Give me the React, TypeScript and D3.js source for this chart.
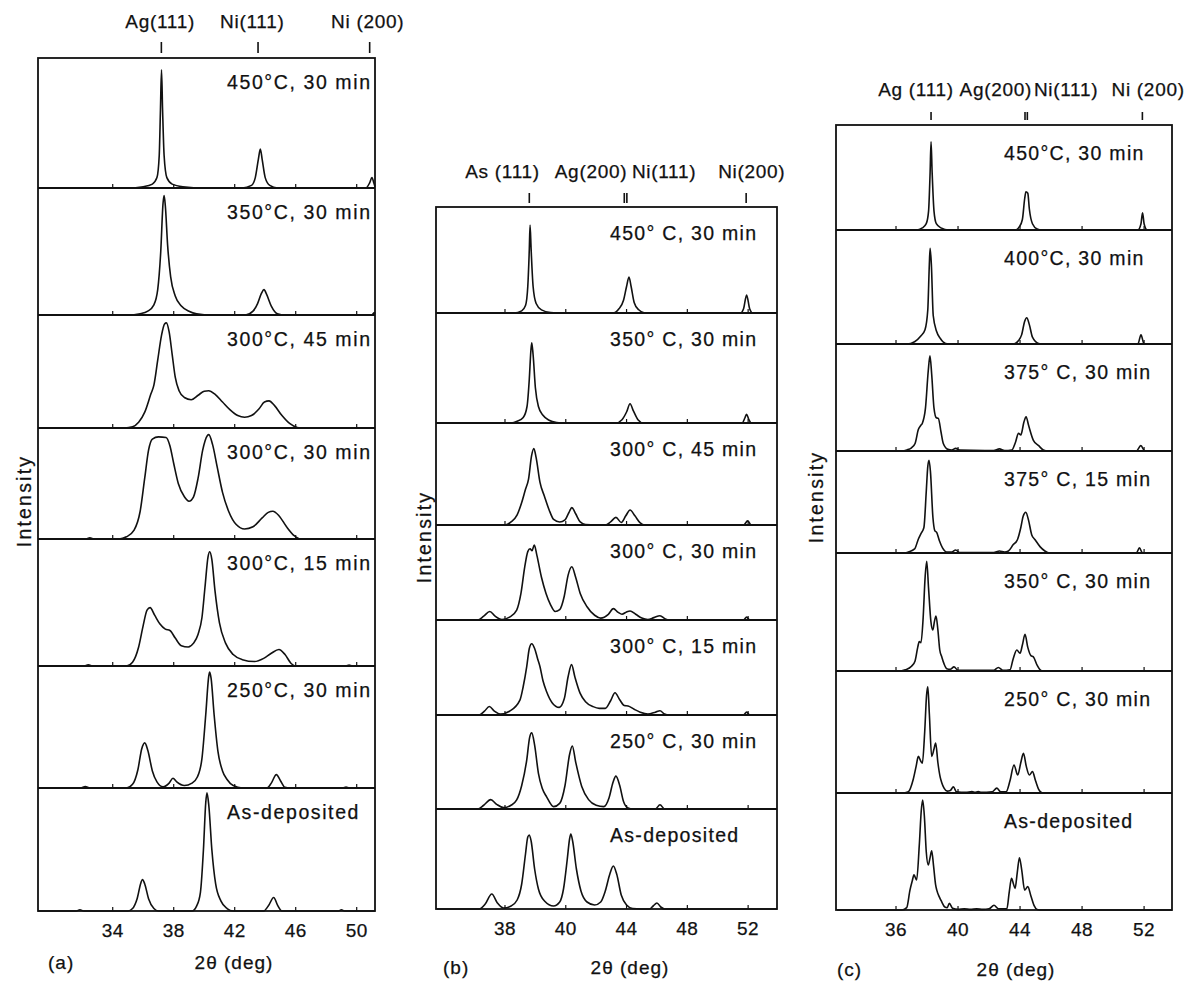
import React from 'react'
import * as d3 from 'd3'

// 2θ (deg) , intensity in % of the strip height

// ---------- panel (a) ----------
const a450 = [[29.1,0],[35,0],[36,1],[36.6,3],[36.9,8],[37.05,25],[37.13,60],[37.2,91],[37.27,60],[37.37,25],[37.55,8],[37.9,3],[38.6,1],[40,0],[42.5,0],[43.1,2],[43.35,8],[43.55,22],[43.68,30],[43.8,22],[44.0,8],[44.3,2],[44.8,0],[50.6,0],[50.85,4],[51.0,8],[51.12,4],[51.2,1]]
const a350 = [[29.1,0],[35,0],[35.8,1],[36.3,3],[36.7,8],[36.95,20],[37.15,50],[37.3,88],[37.37,94],[37.45,86],[37.6,55],[37.8,30],[38.1,15],[38.5,7],[39,3],[39.5,1],[40.5,0],[42.7,0],[43.2,3],[43.5,9],[43.75,17],[43.92,20],[44.1,16],[44.4,7],[44.8,1],[45.3,0],[51,0],[51.15,2],[51.2,1]]
const a300_45 = [[29.1,0],[34.8,0],[35.3,1],[35.7,5],[36.1,14],[36.5,30],[36.7,38],[36.95,60],[37.2,82],[37.4,92],[37.52,93],[37.7,85],[37.9,65],[38.1,45],[38.35,33],[38.7,27],[39.15,25],[39.6,29],[40,32.5],[40.3,33],[40.7,30],[41.2,23],[41.7,16],[42.2,11],[42.65,9.5],[43.1,11],[43.6,17],[43.95,23],[44.25,24],[44.6,20],[45.1,11],[45.6,4],[46.1,0.5],[46.5,0],[51.2,0]]
const a300_30 = [[29.1,0],[32.2,0],[32.5,1],[32.8,0],[34.4,0],[34.9,2],[35.4,8],[35.8,25],[36.1,55],[36.35,80],[36.6,90],[37.0,92],[37.5,91.5],[37.75,84],[38.0,68],[38.3,50],[38.7,38],[39.0,34],[39.3,38],[39.6,55],[39.9,80],[40.2,93],[40.3,94],[40.55,85],[40.85,65],[41.2,42],[41.6,25],[42.1,13],[42.65,9],[43.2,11],[43.8,19],[44.2,24],[44.5,25],[44.9,21],[45.4,11],[45.9,3],[46.3,0],[51.2,0]]
const a300_15 = [[29.1,0],[32.1,0],[32.4,1],[32.7,0],[34.9,0],[35.3,3],[35.7,15],[36.0,32],[36.25,44],[36.45,46],[36.75,40],[37.1,33],[37.45,29],[37.75,28],[38.1,22],[38.5,16],[38.95,15],[39.3,18],[39.6,25],[39.85,38],[40.05,62],[40.25,86],[40.36,90],[40.5,84],[40.7,60],[41.0,34],[41.4,18],[41.9,9],[42.5,5],[43.3,3.5],[43.9,6],[44.4,10],[44.9,13],[45.3,9],[45.7,2],[46.0,0],[49.3,0],[49.5,0.8],[49.7,0],[51.2,0]]
const a250 = [[29.1,0],[31.9,0],[32.2,1.2],[32.5,0],[34.9,0],[35.3,3],[35.65,15],[35.9,32],[36.1,37],[36.3,31],[36.6,14],[36.9,5],[37.3,1],[37.7,4],[37.95,8],[38.2,5],[38.7,2],[39.2,4],[39.55,9],[39.85,24],[40.1,60],[40.3,92],[40.36,95],[40.45,90],[40.65,60],[40.9,30],[41.2,14],[41.5,7],[41.9,2],[42.5,0],[44.1,0],[44.4,4],[44.73,11],[45.0,6],[45.3,0.5],[45.6,0],[49.1,0],[49.3,0.8],[49.5,0],[51.2,0]]
const aAsDep = [[29.1,0],[31.6,0],[31.85,1],[32.1,0],[35.0,0],[35.3,2],[35.6,10],[35.85,23],[35.95,25.6],[36.1,22],[36.35,10],[36.7,2],[37.0,0],[39.2,0],[39.5,4],[39.75,15],[39.95,50],[40.1,88],[40.18,96],[40.3,86],[40.5,50],[40.75,22],[41.1,8],[41.5,2],[41.9,0],[43.9,0],[44.2,4],[44.56,11],[44.8,5],[45.1,0],[48.8,0],[49.0,1],[49.2,0],[51.2,0]]
const curvesA = [a450, a350, a300_45, a300_30, a300_15, a250, aAsDep]
const stripLabelsA = ['450°C, 30 min', '350°C, 30 min', '300°C, 45 min', '300°C, 30 min', '300°C, 15 min', '250°C, 30 min', 'As-deposited']
const ticksA = [34, 38, 42, 46, 50]
const tickLabelsA = ['34', '38', '42', '46', '50']
const reflNamesA = ['Ag(111)', 'Ni(111)', 'Ni (200)']
const reflPosA = [37.19, 43.53, 50.85]

// ---------- panel (b) ----------
const b450 = [[31.5,0],[36.6,0],[37.1,2],[37.35,7],[37.5,25],[37.6,60],[37.65,83],[37.72,60],[37.85,25],[38.05,9],[38.4,3],[39.0,0.5],[39.8,0],[43.1,0],[43.5,4],[43.8,12],[44.0,25],[44.16,34],[44.3,25],[44.5,10],[44.8,3],[45.2,0],[51.5,0],[51.7,4],[51.9,17],[52.1,4],[52.3,0],[53.9,0]]
const b350 = [[31.5,0],[36.4,0],[36.8,1.5],[37.2,5],[37.45,15],[37.6,40],[37.7,65],[37.76,73],[37.85,62],[38.0,32],[38.2,15],[38.5,7],[38.9,2.5],[39.4,0.5],[40,0],[43.3,0],[43.7,3],[44.0,10],[44.23,17.5],[44.45,11],[44.75,3],[45.1,0],[51.6,0],[51.8,5],[51.9,8],[52.05,3],[52.2,0],[53.9,0]]
const b300_45 = [[31.5,0],[36.0,0],[36.4,3],[36.8,10],[37.1,22],[37.35,35],[37.55,45],[37.75,68],[37.9,75],[38.05,66],[38.3,42],[38.6,28],[38.9,15],[39.2,5.5],[39.6,3],[39.95,5],[40.2,12],[40.4,17],[40.65,11],[40.95,3],[41.3,0.5],[42.6,0],[42.95,3],[43.3,7.5],[43.65,2.5],[43.95,9],[44.23,14.7],[44.55,9],[44.9,2],[45.2,0],[51.7,0],[51.97,4],[52.2,0],[53.9,0]]
const b300_30 = [[31.5,0],[34.2,0],[34.6,4],[35.0,9],[35.35,4],[35.8,0.5],[36.3,3],[36.77,10.5],[37.05,28],[37.3,56],[37.5,72],[37.65,75],[37.78,73],[37.93,79],[38.1,68],[38.4,45],[38.7,28],[39.0,16],[39.3,9],[39.6,11],[39.9,25],[40.15,47],[40.4,56],[40.65,45],[40.95,28],[41.4,14],[41.9,5],[42.3,2],[42.8,6],[43.13,12],[43.45,8],[43.7,6],[44.0,8.5],[44.23,9.5],[44.6,6],[45.0,2],[45.4,0.5],[45.8,2.5],[46.2,4.5],[46.55,1],[46.8,0],[51.7,0],[51.9,3],[52.1,0],[53.9,0]]
const b300_15 = [[31.5,0],[34.3,0],[34.65,4],[34.97,9],[35.3,4],[35.7,1],[36.3,4],[36.99,16],[37.2,30],[37.43,51],[37.6,70],[37.76,75],[37.95,70],[38.15,59],[38.3,51],[38.5,36],[38.74,24.5],[39.1,13],[39.57,8],[39.9,17],[40.15,40],[40.38,53],[40.6,40],[40.94,23],[41.3,14],[41.8,8.8],[42.2,7],[42.6,7],[42.95,15],[43.24,23.5],[43.55,16],[43.85,10],[44.1,9.5],[44.5,6],[44.9,3],[45.4,1],[45.9,3],[46.2,4.5],[46.5,1],[46.8,0],[51.7,0],[51.9,3],[52.1,0],[53.9,0]]
const b250 = [[31.5,0],[34.2,0],[34.6,4],[35.06,10],[35.45,5],[35.9,1.5],[36.4,4],[36.77,9.6],[37.1,25],[37.43,52],[37.62,76],[37.76,81],[37.95,68],[38.2,38],[38.45,22],[38.74,13],[39.2,2.5],[39.6,6],[39.95,25],[40.25,58],[40.43,67],[40.65,50],[41.05,24],[41.5,10],[42.0,4],[42.5,2.5],[42.85,12],[43.1,28],[43.3,35],[43.55,25],[43.8,8],[44.1,1],[44.4,0],[45.9,0],[46.2,4.5],[46.5,0],[53.9,0]]
const bAsDep = [[31.5,0],[34.3,0],[34.7,5],[35.13,15],[35.5,6],[35.9,1],[36.4,3],[36.8,9],[37.1,25],[37.35,55],[37.5,72],[37.6,74],[37.72,68],[37.95,40],[38.2,20],[38.6,8],[39.2,3],[39.6,7],[39.85,20],[40.1,50],[40.25,70],[40.33,75],[40.45,68],[40.7,40],[41.0,18],[41.4,7],[41.9,4],[42.3,7],[42.6,18],[42.9,35],[43.13,43],[43.35,35],[43.65,14],[44.0,4],[44.4,0.5],[45.5,0],[45.75,3],[46.0,6],[46.25,2],[46.5,0],[53.9,0]]
const curvesB = [b450, b350, b300_45, b300_30, b300_15, b250, bAsDep]
const stripLabelsB = ['450° C, 30 min', '350° C, 30 min', '300° C, 45 min', '300° C, 30 min', '300° C, 15 min', '250° C, 30 min', 'As-deposited']
const ticksB = [36, 40, 44, 48, 52]
const tickLabelsB = ['38', '40', '44', '48', '52']
const reflNamesB = ['As (111)', 'Ag(200)', 'Ni(111)', 'Ni(200)']
const reflPosB = [37.6, 43.85, 44.02, 51.87]

// ---------- panel (c) ----------
const c450 = [[32.2,0],[37.3,0],[37.7,2],[37.95,6],[38.1,18],[38.2,55],[38.26,84],[38.33,55],[38.45,18],[38.6,6],[38.9,2],[39.4,0],[43.7,0],[43.95,3],[44.15,10],[44.3,30],[44.38,36.5],[44.5,35],[44.6,20],[44.8,6],[45.1,1],[45.4,0],[51.6,0],[51.8,6],[51.9,16.5],[52.0,6],[52.2,0],[53.8,0]]
const c400 = [[32.2,0],[36.7,0],[37.2,2],[37.6,7],[37.87,12.5],[38.05,30],[38.15,70],[38.2,84],[38.28,70],[38.4,25],[38.62,11],[38.85,5],[39.2,0.5],[39.6,0],[43.6,0],[43.9,3],[44.1,8],[44.3,20],[44.43,23],[44.6,17],[44.8,6],[45.2,0.5],[45.5,0],[51.6,0],[51.8,8],[52.0,0],[53.8,0]]
const c375_30 = [[32.2,0],[36.4,0],[36.7,1],[37.0,3],[37.23,7],[37.44,20],[37.6,24],[37.7,26],[37.9,40],[38.08,75],[38.19,89],[38.3,72],[38.45,40],[38.6,31],[38.73,30.5],[38.9,18],[39.05,7],[39.35,1.5],[39.6,1],[39.85,2.5],[40.1,0.8],[42.3,0.5],[42.67,2],[43.0,0.5],[43.47,1],[43.7,8],[43.9,16.5],[44.05,15],[44.25,27],[44.39,32],[44.55,24],[44.86,10],[45.2,5],[45.5,1],[45.8,0],[51.5,0],[51.79,5],[52.05,0],[53.8,0]]
const c375_15 = [[32.2,0],[36.6,0],[36.8,1],[37.2,4],[37.45,14],[37.61,19],[37.8,25],[37.95,60],[38.05,85],[38.13,91],[38.22,80],[38.38,35],[38.5,22],[38.63,20],[38.8,12],[39.0,5],[39.27,1],[39.6,1],[39.85,3],[40.1,0.5],[42.3,0.5],[42.67,2],[43.0,1],[43.25,2],[43.55,8],[43.83,13],[44.05,25],[44.2,36],[44.37,40],[44.55,32],[44.75,18],[44.97,13],[45.3,6],[45.6,2],[45.9,0],[51.5,0],[51.7,5],[51.9,0],[53.8,0]]
const c350 = [[32.2,0],[36.3,0],[36.6,1],[37.0,4],[37.23,8.5],[37.4,20],[37.5,25],[37.61,24],[37.75,45],[37.88,80],[37.98,93],[38.1,70],[38.25,42],[38.37,34.7],[38.48,42],[38.58,46.6],[38.7,35],[38.82,18],[38.95,12],[39.1,6],[39.27,2],[39.5,1.5],[39.74,3.5],[40.0,0.5],[42.3,0.5],[42.6,3],[42.9,0.5],[43.35,1],[43.55,10],[43.79,17.8],[44.0,15],[44.15,22],[44.32,31],[44.5,20],[44.7,13],[44.86,12],[45.1,5],[45.35,0.5],[45.6,0],[53.8,0]]
const c250 = [[32.2,0],[36.5,0],[36.8,1],[37.1,10.6],[37.3,22],[37.44,30],[37.6,26],[37.7,24.5],[37.85,50],[37.97,80],[38.05,87],[38.15,65],[38.3,30],[38.45,36],[38.56,41],[38.7,25],[38.85,13],[38.95,8.5],[39.1,4],[39.3,1.5],[39.5,2],[39.7,5],[39.9,1],[40.5,0.5],[40.9,1.2],[41.1,0.5],[41.3,1.2],[41.5,0.5],[42.2,1],[42.5,4],[42.75,1],[43.1,1],[43.35,10],[43.61,23],[43.85,14.7],[44.05,25],[44.22,32.5],[44.4,22],[44.6,14.7],[44.8,17.5],[45.0,10],[45.2,3],[45.45,0],[53.8,0]]
const cAsDep = [[32.2,0],[36.4,0],[36.69,2],[36.9,17],[37.05,25],[37.16,30],[37.33,25.6],[37.5,55],[37.63,85],[37.72,94],[37.83,80],[37.95,50],[38.08,38.5],[38.2,45],[38.3,50.7],[38.42,38],[38.55,22],[38.63,17],[38.8,11],[38.95,7],[39.15,2.5],[39.3,2],[39.44,5.7],[39.65,1.5],[40.0,0.5],[40.4,1],[40.8,0.5],[41.2,1],[41.6,0.5],[42.0,1],[42.32,4],[42.6,1],[43.15,1],[43.3,15],[43.45,27],[43.58,22],[43.68,18.5],[43.82,32],[43.96,44.7],[44.1,35],[44.3,17],[44.5,20],[44.7,12],[44.9,4],[45.1,0.5],[45.4,0],[53.8,0]]
const curvesC = [c450, c400, c375_30, c375_15, c350, c250, cAsDep]
const stripLabelsC = ['450°C, 30 min', '400°C, 30 min', '375° C, 30 min', '375° C, 15 min', '350° C, 30 min', '250° C, 30 min', 'As-deposited']
const ticksC = [36, 40, 44, 48, 52]
const tickLabelsC = ['36', '40', '44', '48', '52']
const reflNamesC = ['Ag (111)', 'Ag(200)', 'Ni(111)', 'Ni (200)']
const reflPosC = [38.26, 44.32, 44.47, 51.89]

// layout of the three panels (pixels), label anchors in degrees
const panels = [
  {
    tag: '(a)', curves: curvesA, strips: stripLabelsA, ticks: ticksA, tickLabels: tickLabelsA,
    reflNames: reflNamesA, reflPos: reflPosA, reflLabelAt: [37.11, 43.15, 50.72],
    domain: [29.1, 51.2], x0: 38, x1: 375,
    rows: [58, 188, 315, 428, 539, 666, 788, 911],
    headY: 28, markY: [42, 53], stripX: 227, stripDy: 31, stripLs: 1.6,
    yLabel: [24, 501], tagX: 48, titleX: 234, bottomY: 969,
  },
  {
    tag: '(b)', curves: curvesB, strips: stripLabelsB, ticks: ticksB, tickLabels: tickLabelsB,
    reflNames: reflNamesB, reflPos: reflPosB, reflLabelAt: [35.84, 41.66, 46.47, 52.24],
    domain: [31.46, 53.9], x0: 436, x1: 777,
    rows: [207, 313, 423, 525, 620, 715, 809, 909],
    headY: 178, markY: [193, 203], stripX: 610, stripDy: 33, stripLs: 1.3,
    yLabel: [424, 537], tagX: 443, titleX: 630, bottomY: 974,
  },
  {
    tag: '(c)', curves: curvesC, strips: stripLabelsC, ticks: ticksC, tickLabels: tickLabelsC,
    reflNames: reflNamesC, reflPos: reflPosC, reflLabelAt: [37.29, 42.44, 46.97, 52.26],
    domain: [32.13, 53.8], x0: 836, x1: 1172,
    rows: [125, 230, 344, 451, 553, 671, 793, 910],
    headY: 96, markY: [112, 120], stripX: 1004, stripDy: 35, stripLs: 1.3,
    yLabel: [816, 497], tagX: 837, titleX: 1016, bottomY: 976,
  },
]

const FONT = '"Liberation Sans", Arial, sans-serif'
const INK = '#111'

function Panel({ p }: { p: any }) {
  const x = d3.scaleLinear().domain(p.domain).range([p.x0, p.x1])
  const n = p.rows.length - 1
  const bottom = p.rows[n]

  return (
    <g>
      {p.curves.map((data: number[][], i: number) => {
        const top = p.rows[i]
        const base = p.rows[i + 1]
        const y = d3.scaleLinear().domain([0, 100]).range([base, top])
        const line = d3
          .line<number[]>()
          .x((d) => x(d[0]))
          .y((d) => y(d[1]))
          .curve(d3.curveMonotoneX)
        return (
          <g key={i}>
            <path d={line(data) || ''} fill="none" stroke={INK} strokeWidth={1.6} strokeLinejoin="round" />
            {p.ticks.map((t: number) => (
              <line key={t} x1={x(t)} x2={x(t)} y1={base} y2={base - 4} stroke={INK} strokeWidth={1.2} />
            ))}
            <text x={p.stripX} y={top + p.stripDy} fontSize={19.5} letterSpacing={p.stripLs} fill={INK} stroke={INK} strokeWidth={0.25}>
              {p.strips[i]}
            </text>
          </g>
        )
      })}

      {/* strip separators and frame */}
      {p.rows.slice(1, n).map((r: number) => (
        <line key={r} x1={p.x0} x2={p.x1} y1={r} y2={r} stroke={INK} strokeWidth={1.8} />
      ))}
      <rect x={p.x0} y={p.rows[0]} width={p.x1 - p.x0} height={bottom - p.rows[0]} fill="none" stroke={INK} strokeWidth={1.8} />

      {/* reflection markers */}
      {p.reflPos.map((r: number, i: number) => (
        <line key={i} x1={x(r)} x2={x(r)} y1={p.markY[0]} y2={p.markY[1]} stroke={INK} strokeWidth={1.6} />
      ))}
      {p.reflNames.map((name: string, i: number) => (
        <text key={name} x={x(p.reflLabelAt[i])} y={p.headY} fontSize={19} letterSpacing={0.7} textAnchor="middle" fill={INK} stroke={INK} strokeWidth={0.25}>
          {name}
        </text>
      ))}

      {/* x tick labels */}
      {p.ticks.map((t: number, i: number) => (
        <text key={t} x={x(t)} y={bottom + 26} fontSize={19} letterSpacing={0.5} textAnchor="middle" fill={INK} stroke={INK} strokeWidth={0.25}>
          {p.tickLabels[i]}
        </text>
      ))}

      <text x={p.tagX} y={p.bottomY} fontSize={19} letterSpacing={1} fill={INK} stroke={INK} strokeWidth={0.25}>{p.tag}</text>
      <text x={p.titleX} y={p.bottomY} fontSize={19} letterSpacing={1} textAnchor="middle" fill={INK} stroke={INK} strokeWidth={0.25}>2θ (deg)</text>
      <text
        transform={`translate(${p.yLabel[0]},${p.yLabel[1]}) rotate(-90)`}
        fontSize={19.5}
        letterSpacing={2.2}
        textAnchor="middle"
        dominantBaseline="central"
        fill={INK}
        stroke={INK}
        strokeWidth={0.25}
      >
        Intensity
      </text>
    </g>
  )
}

export default function App() {
  return (
    <svg
      width={1196}
      height={983}
      style={{ position: 'absolute', left: 0, top: 0, background: '#fff', fontFamily: FONT }}
    >
      <rect width={1196} height={983} fill="#fff" />
      {panels.map((p) => (
        <Panel key={p.tag} p={p} />
      ))}
    </svg>
  )
}
